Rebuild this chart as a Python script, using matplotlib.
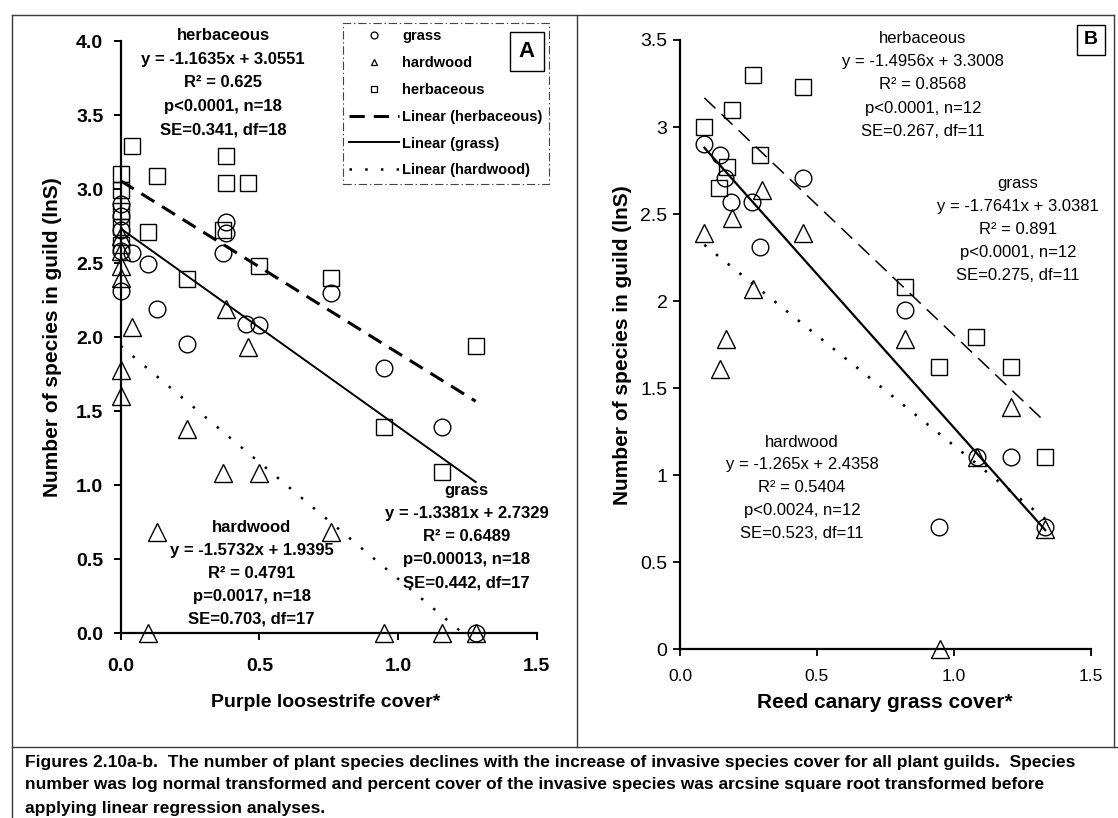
import matplotlib
matplotlib.use("Agg")
import numpy as np
import matplotlib.pyplot as plt
from matplotlib import font_manager
from matplotlib.lines import Line2D

# ---- panel A: purple loosestrife cover (arcsine sqrt) vs ln species ----
a_grass_x = [0, 0, 0, 0, 0, 0.04, 0.10, 0.13, 0.37, 0.38, 0.38, 0.45, 0.50, 0.24, 0.76, 0.95, 1.16, 1.28]
a_grass_y = [2.90, 2.82, 2.72, 2.58, 2.31, 2.57, 2.49, 2.19, 2.57, 2.78, 2.70, 2.09, 2.08, 1.95, 2.30, 1.79, 1.39, 0.0]
a_hard_x = [0, 0, 0, 0, 0, 0, 0.04, 0.38, 0.46, 0.24, 0.37, 0.50, 0.13, 0.76, 0.10, 0.95, 1.16, 1.28]
a_hard_y = [2.68, 2.58, 2.48, 2.40, 1.78, 1.60, 2.07, 2.19, 1.93, 1.38, 1.08, 1.08, 0.68, 0.68, 0, 0, 0, 0]
a_herb_x = [0, 0, 0, 0, 0, 0.04, 0.38, 0.13, 0.38, 0.46, 0.10, 0.37, 0.50, 0.24, 0.76, 1.28, 0.95, 1.16]
a_herb_y = [3.10, 2.99, 2.85, 2.74, 2.62, 3.29, 3.22, 3.09, 3.04, 3.04, 2.71, 2.72, 2.48, 2.39, 2.40, 1.94, 1.39, 1.09]

# fitted lines (slope, intercept) as reported
a_fit = {"herbaceous": (-1.1635, 3.0551), "grass": (-1.3381, 2.7329), "hardwood": (-1.5732, 1.9395)}
a_stats = {
    "herbaceous": ["herbaceous", "y = -1.1635x + 3.0551", "R\u00b2 = 0.625", "p<0.0001, n=18", "SE=0.341, df=18"],
    "hardwood": ["hardwood", "y = -1.5732x + 1.9395", "R\u00b2 = 0.4791", "p=0.0017, n=18", "SE=0.703, df=17"],
    "grass": ["grass", "y = -1.3381x + 2.7329", "R\u00b2 = 0.6489", "p=0.00013, n=18", "SE=0.442, df=17"],
}

# ---- panel B: reed canary grass cover ----
b_grass_x = [0.089, 0.145, 0.165, 0.187, 0.262, 0.449, 0.293, 0.822, 1.083, 1.209, 0.946, 1.334]
b_grass_y = [2.90, 2.84, 2.71, 2.57, 2.57, 2.71, 2.31, 1.95, 1.105, 1.105, 0.70, 0.70]
b_hard_x = [0.299, 0.191, 0.089, 0.449, 0.265, 0.167, 0.146, 0.822, 1.209, 1.083, 1.334, 0.95]
b_hard_y = [2.64, 2.48, 2.39, 2.39, 2.07, 1.785, 1.61, 1.785, 1.39, 1.105, 0.69, 0.0]
b_herb_x = [0.265, 0.449, 0.189, 0.089, 0.293, 0.171, 0.142, 0.822, 1.08, 0.946, 1.209, 1.334]
b_herb_y = [3.30, 3.23, 3.10, 3.00, 2.84, 2.77, 2.65, 2.08, 1.795, 1.62, 1.62, 1.105]

b_fit = {"herbaceous": (-1.4956, 3.3008), "grass": (-1.7641, 3.0381), "hardwood": (-1.265, 2.4358)}
b_stats = {
    "herbaceous": ["herbaceous", "y = -1.4956x + 3.3008", "R\u00b2 = 0.8568", "p<0.0001, n=12", "SE=0.267, df=11"],
    "grass": ["grass", "y = -1.7641x + 3.0381", "R\u00b2 = 0.891", "p<0.0001, n=12", "SE=0.275, df=11"],
    "hardwood": ["hardwood", "y = -1.265x + 2.4358", "R\u00b2 = 0.5404", "p<0.0024, n=12", "SE=0.523, df=11"],
}

a_yticks = [0.0, 0.5, 1.0, 1.5, 2.0, 2.5, 3.0, 3.5, 4.0]
a_yticklabels = ["0.0", "0.5", "1.0", "1.5", "2.0", "2.5", "3.0", "3.5", "4.0"]
b_yticks = [0, 0.5, 1, 1.5, 2, 2.5, 3, 3.5]
b_yticklabels = ["0", "0.5", "1", "1.5", "2", "2.5", "3", "3.5"]
xticks = [0.0, 0.5, 1.0, 1.5]
xticklabels = ["0.0", "0.5", "1.0", "1.5"]

caption = [
    "Figures 2.10a-b.  The number of plant species declines with the increase of invasive species cover for all plant guilds.  Species",
    "number was log normal transformed and percent cover of the invasive species was arcsine square root transformed before",
    "applying linear regression analyses.",
]

plt.rcParams["font.family"] = ["Liberation Sans", "DejaVu Sans"]
plt.rcParams["lines.scale_dashes"] = False

installed = {f.name for f in font_manager.fontManager.ttflist}
if "Liberation Sans Narrow" in installed:
    cap_font, cap_size = "Liberation Sans Narrow", 15.5
else:
    cap_font, cap_size = "Liberation Sans", 12.5

W, H = 1118, 818
fig = plt.figure(figsize=(W / 100, H / 100), dpi=100)


def px(x, y):
    return x / W, 1 - y / H


def frame_line(x0, y0, x1, y1):
    (fx0, fy0), (fx1, fy1) = px(x0, y0), px(x1, y1)
    fig.add_artist(Line2D([fx0, fx1], [fy0, fy1], color="#3a3a3a", lw=1.0, transform=fig.transFigure))


# page frame around both panels and the caption
frame_line(12, 15, 1114, 15)
frame_line(12, 15, 12, 818)
frame_line(576.5, 15, 576.5, 747)
frame_line(1114, 15, 1114, 747)
frame_line(12, 747, 1118, 747)

for i, line in enumerate(caption):
    fx, fy = px(25, 762 + 23 * i)
    fig.text(fx, fy, line, family=cap_font, fontsize=cap_size, fontweight="bold", va="center", ha="left")

# axes placed in pixel terms
axA = fig.add_axes([120.7 / W, (H - 633) / H, 416 / W, 592 / H])
axB = fig.add_axes([680 / W, (H - 649.3) / H, 410.7 / W, 609.3 / H])

for ax in (axA, axB):
    ax.spines["top"].set_visible(False)
    ax.spines["right"].set_visible(False)
    ax.patch.set_alpha(0)

# ---------------- panel A ----------------
axA.set_xlim(0, 1.5)
axA.set_ylim(0, 4.0)
for s in ("left", "bottom"):
    axA.spines[s].set_linewidth(1.6)
axA.set_xticks(xticks)
axA.set_xticklabels(xticklabels, fontsize=14, fontweight="bold")
axA.set_yticks(a_yticks)
axA.set_yticklabels(a_yticklabels, fontsize=14, fontweight="bold")
axA.tick_params(axis="both", direction="out", length=5, width=1.4)
axA.tick_params(axis="x", pad=13)
axA.tick_params(axis="y", pad=7.5)

mk = dict(linestyle="none", mfc="none", mec="black", mew=1.0, clip_on=False, zorder=3)
axA.plot(a_grass_x, a_grass_y, marker="o", ms=12, **mk)
axA.plot(a_hard_x, a_hard_y, marker="^", ms=12.5, **mk)
axA.plot(a_herb_x, a_herb_y, marker="s", ms=11.5, **mk)

xa = np.array([min(a_grass_x), max(a_grass_x)])
styles_a = {
    "herbaceous": dict(color="black", lw=2.2, dashes=(11, 6.5)),
    "grass": dict(color="black", lw=1.4, linestyle="-"),
    "hardwood": dict(color="black", lw=1.8, dashes=(1.8, 9.5)),
}
for name in ("herbaceous", "grass", "hardwood"):
    m, b = a_fit[name]
    axA.plot(xa, m * xa + b, **styles_a[name])

handles = [
    Line2D([], [], linestyle="none", marker="o", ms=5, mfc="none", mec="black", mew=0.9),
    Line2D([], [], linestyle="none", marker="^", ms=5, mfc="none", mec="black", mew=0.9),
    Line2D([], [], linestyle="none", marker="s", ms=5, mfc="none", mec="black", mew=0.9),
    Line2D([], [], **styles_a["herbaceous"]),
    Line2D([], [], **styles_a["grass"]),
    Line2D([], [], **styles_a["hardwood"]),
]
labels = ["grass", "hardwood", "herbaceous", "Linear (herbaceous)", "Linear (grass)", "Linear (hardwood)"]
leg = axA.legend(handles, labels, loc="upper left", bbox_to_anchor=(0.534, 1.031), borderaxespad=0,
                 handlelength=3.4, handletextpad=0.2, labelspacing=0.88, borderpad=0.45,
                 prop={"size": 10.5, "weight": "bold"}, fancybox=False, framealpha=1)
leg.get_frame().set_edgecolor("#444444")
leg.get_frame().set_linewidth(0.8)
leg.get_frame().set_linestyle((0, (6, 2, 1, 2)))
axA.text(1.465, 3.93, "A", fontsize=16, fontweight="bold", ha="center", va="center", zorder=10,
         bbox=dict(boxstyle="square,pad=0.42", fc="white", ec="black", lw=1.0))


def stat_block(ax, x, y0, step, lines, weight):
    for k, t in enumerate(lines):
        ax.text(x, y0 - k * step, t, ha="center", va="center", fontsize=12, fontweight=weight)


stat_block(axA, 0.369, 4.034, 0.158, a_stats["herbaceous"], "bold")
stat_block(axA, 0.472, 0.711, 0.154, a_stats["hardwood"], "bold")
stat_block(axA, 1.248, 0.966, 0.157, a_stats["grass"], "bold")

axA.set_xlabel("Purple loosestrife cover*", fontsize=14, fontweight="bold")
axA.xaxis.set_label_coords(0.4935, -0.1166)
axA.xaxis.label.set_va("center")
axA.set_ylabel("Number of species in guild (lnS)", fontsize=15, fontweight="bold")
axA.yaxis.set_label_coords(-0.165, 0.5)
axA.yaxis.label.set_va("center")

# ---------------- panel B ----------------
axB.set_xlim(0, 1.5)
axB.set_ylim(0, 3.5)
for s in ("left", "bottom"):
    axB.spines[s].set_linewidth(1.6)
axB.set_xticks(xticks)
axB.set_xticklabels(xticklabels, fontsize=12.5)
axB.set_yticks(b_yticks)
axB.set_yticklabels(b_yticklabels, fontsize=14)
axB.tick_params(axis="both", direction="out", length=5, width=1.3)
axB.tick_params(axis="x", pad=9.5)
axB.tick_params(axis="y", pad=4)

axB.plot(b_grass_x, b_grass_y, marker="o", ms=12, **mk)
axB.plot(b_hard_x, b_hard_y, marker="^", ms=12.5, **mk)
axB.plot(b_herb_x, b_herb_y, marker="s", ms=11.5, **mk)

xb = np.array([min(b_grass_x), max(b_grass_x)])
styles_b = {
    "herbaceous": dict(color="black", lw=1.1, dashes=(11, 6)),
    "grass": dict(color="black", lw=1.6, linestyle="-"),
    "hardwood": dict(color="black", lw=1.9, dashes=(1.8, 9)),
}
for name in ("herbaceous", "grass", "hardwood"):
    m, b = b_fit[name]
    axB.plot(xb, m * xb + b, **styles_b[name])

axB.text(1.5, 3.50, "B", fontsize=14, fontweight="bold", ha="center", va="center", zorder=10,
         bbox=dict(boxstyle="square,pad=0.35", fc="white", ec="black", lw=1.0))

stat_block(axB, 0.887, 3.509, 0.1335, b_stats["herbaceous"], "normal")
stat_block(axB, 1.234, 2.677, 0.132, b_stats["grass"], "normal")
stat_block(axB, 0.446, 1.19, 0.1306, b_stats["hardwood"], "normal")

axB.set_xlabel("Reed canary grass cover*", fontsize=15, fontweight="bold")
axB.xaxis.set_label_coords(0.499, -0.0865)
axB.xaxis.label.set_va("center")
axB.set_ylabel("Number of species in guild (lnS)", fontsize=15, fontweight="bold")
axB.yaxis.set_label_coords(-0.139, 0.5)
axB.yaxis.label.set_va("center")

fig.savefig("out.png", dpi=100)
